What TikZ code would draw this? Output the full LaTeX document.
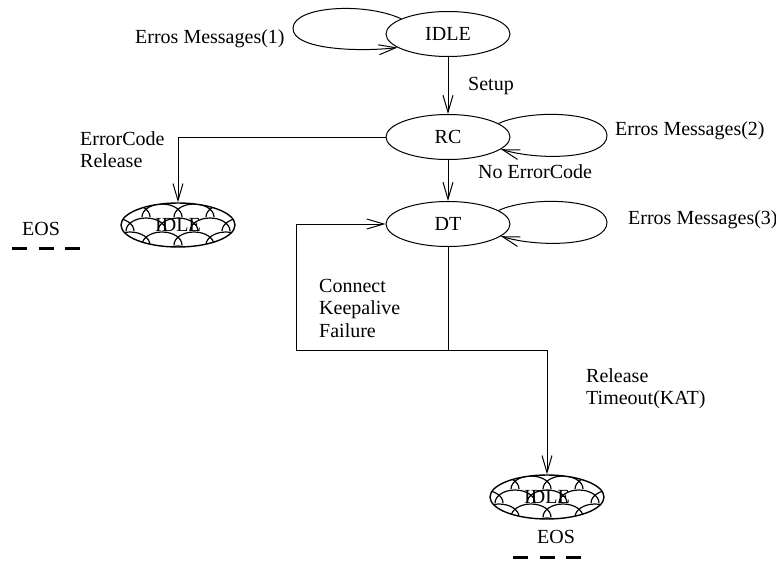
\documentclass[tikz,border=0pt]{standalone}
\usepackage{fontspec}
\setmainfont{Liberation Serif}
\usetikzlibrary{arrows.meta,shapes.geometric,calc}
\begin{document}
\begin{tikzpicture}[x=1pt,y=-1pt,
  every node/.style={font=\fontsize{20}{22}\selectfont},
  state/.style={ellipse,draw,line width=1pt,inner sep=0pt,minimum width=124pt,minimum height=45pt},
  final/.style={ellipse,draw,line width=1.4pt,inner sep=0pt,minimum width=114pt,minimum height=44pt},
  lbl/.style={anchor=base west,inner sep=0pt},
  blk/.style={align=left,anchor=north west,inner sep=0pt,font=\fontsize{20}{22.5}\selectfont},
  arr/.style={line width=1pt,-{Straight Barb[length=17pt,width=10pt]}},
  wire/.style={line width=1pt},
  eosbar/.style={line width=3pt,dash pattern=on 15pt off 11.5pt},
  scale line/.style={line width=1.2pt}
]
\useasboundingbox (0,0) rectangle (776,562);

% centres of the two end states
\coordinate (cL) at (178,225);
\coordinate (cB) at (547,497);

% fish-scale filling of the end states: overlapping arcs in staggered rows
\foreach \cc in {cL,cB}{
  \begin{scope}
    \clip (\cc) ellipse [x radius=57, y radius=22];
    \foreach \r in {0,...,4}{
      \foreach \c in {0,...,5}{
        \draw[scale line] ($(\cc)+({\c*32-116+mod(\r,2)*16},{\r*14-22})$)
          arc[start angle=180,end angle=360,x radius=20,y radius=13];
      }
    }
  \end{scope}
}

% states
\node[state] (idle) at (448,34) {IDLE};
\node[state] (rc) at (448,137) {RC};
\node[state] (dt) at (448,224) {DT};
\node[final] (idleL) at (cL) {IDLE};
\node[final] (idleB) at (cB) {IDLE};

% self loops
\draw[arr] (idle.162) .. controls (365,2) and (294,6) .. (293,28)
  .. controls (292,50) and (360,52) .. (idle.195);
\draw[arr] (rc.15) .. controls (530,109) and (605,111) .. (607,135)
  .. controls (608,159) and (540,161) .. (rc.-13);
\draw[arr] (dt.15) .. controls (530,196) and (605,198) .. (607,222)
  .. controls (608,246) and (540,248) .. (dt.-13);

% transitions
\draw[arr] (idle.south) -- (rc.north);
\draw[arr] (rc.west) -| (idleL.north);
\draw[arr] (rc.south) -- (dt.north);
\coordinate (jn) at (448,350);
\coordinate (lc) at (296,350);
\coordinate (rcn) at (547,350);
\draw[wire] (dt.south) -- (jn);
\draw[arr] (jn) -- (lc) |- (dt.west);
\draw[arr] (jn) -- (rcn) -- (idleB.north);

% labels
\node[lbl] (m1) at (135,43) {Erros Messages(1)};
\node[lbl] (setup) at (468,90) {Setup};
\node[blk] (errc) at (80,131) {ErrorCode\\Release};
\node[lbl] (m2) at (615,135) {Erros Messages(2)};
\node[lbl] (noerr) at (478,178) {No ErrorCode};
\node[lbl] (m3) at (628,224) {Erros Messages(3)};
\node[blk] (conn) at (319,279) {Connect\\Keepalive\\Failure};
\node[blk] (rel) at (586,368) {Release\\Timeout(KAT)};

% end-of-session marks
\node[lbl] (eosL) at (22,235) {EOS};
\draw[eosbar] (12,248) -- (80,248);
\node[lbl] (eosB) at (537,543) {EOS};
\draw[eosbar] (513,557) -- (581,557);
\end{tikzpicture}
\end{document}
